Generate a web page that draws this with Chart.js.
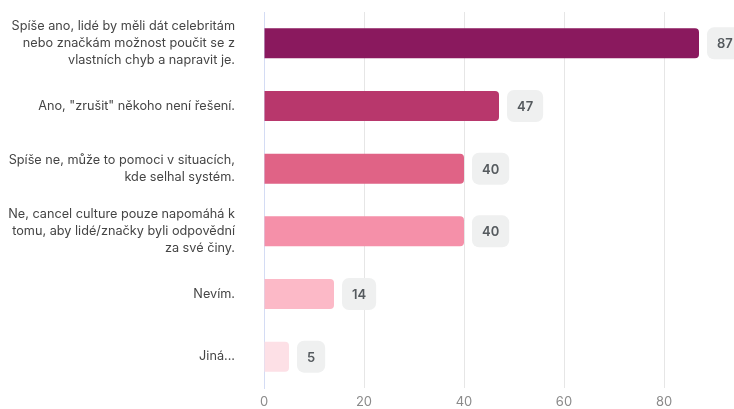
<!DOCTYPE html>
<html><head><meta charset="utf-8">
<script src="https://cdn.jsdelivr.net/npm/chart.js@4.4.0/dist/chart.umd.min.js"></script>
<style>html,body{margin:0;padding:0;background:#fff}#wrap{width:734px;height:409px;position:relative}</style>
</head><body><div id="wrap"><canvas id="c"></canvas></div>
<script>
const categories = [
  ["Spíše ano, lidé by měli dát celebritám", "nebo značkám možnost poučit se z", "vlastních chyb a napravit je."],
  ["Ano, \"zrušit\" někoho není řešení."],
  ["Spíše ne, může to pomoci v situacích,", "kde selhal systém."],
  ["Ne, cancel culture pouze napomáhá k", "tomu, aby lidé/značky byli odpovědní", "za své činy."],
  ["Nevím."],
  ["Jiná..."]
];
const values = [87, 47, 40, 40, 14, 5];
const xTicks = [0, 20, 40, 60, 80];
const barColors = ["#8a195e", "#b8376c", "#e06386", "#f590a9", "#fcb9c7", "#fde0e6"];

const labelBoxes = {
  id: 'labelBoxes',
  afterDatasetsDraw(chart) {
    const ctx = chart.ctx;
    const meta = chart.getDatasetMeta(0);
    ctx.save();
    ctx.font = '600 13px Inter';
    meta.data.forEach((bar, i) => {
      const txt = String(values[i]);
      const w = ctx.measureText(txt).width + 20;
      const h = 32;
      const x = bar.x + 8;
      const y = bar.y - h / 2;
      ctx.fillStyle = '#eff0f0';
      ctx.beginPath();
      ctx.roundRect(x, y, w, h, 7);
      ctx.fill();
      ctx.fillStyle = '#555a5e';
      ctx.textAlign = 'center';
      ctx.textBaseline = 'middle';
      ctx.fillText(txt, x + w / 2, bar.y + 1);
    });
    ctx.restore();
  }
};

new Chart(document.getElementById('c'), {
  type: 'bar',
  data: {
    labels: categories,
    datasets: [{
      data: values,
      backgroundColor: barColors,
      borderRadius: 4,
      borderSkipped: 'start',
      categoryPercentage: 0.96,
      barPercentage: 0.5
    }]
  },
  options: {
    indexAxis: 'y',
    responsive: true,
    maintainAspectRatio: false,
    animation: false,
    layout: { padding: { top: 12, right: 0, left: 0, bottom: 0 } },
    plugins: { legend: { display: false }, tooltip: { enabled: false } },
    scales: {
      x: {
        min: 0, max: 94,
        afterBuildTicks(scale) { scale.ticks = xTicks.map(v => ({ value: v })); },
        ticks: { color: '#8a8a8a', font: { family: 'Inter', size: 13 }, padding: 6 },
        grid: { color: '#e6e6e6', drawTicks: false },
        border: { display: false },
        afterFit(scale) { scale.height = 21; scale.paddingLeft = 0; scale.paddingRight = 0; }
      },
      y: {
        ticks: { color: '#454545', font: { family: 'Inter', size: 12.7, lineHeight: 1.36 }, padding: 29 },
        grid: { display: false, drawTicks: false },
        border: { display: true, color: '#d4dcf4', width: 1 },
        afterFit(scale) { scale.width = 264; scale.paddingTop = 0; scale.paddingBottom = 0; }
      }
    }
  },
  plugins: [labelBoxes]
});
</script></body></html>
